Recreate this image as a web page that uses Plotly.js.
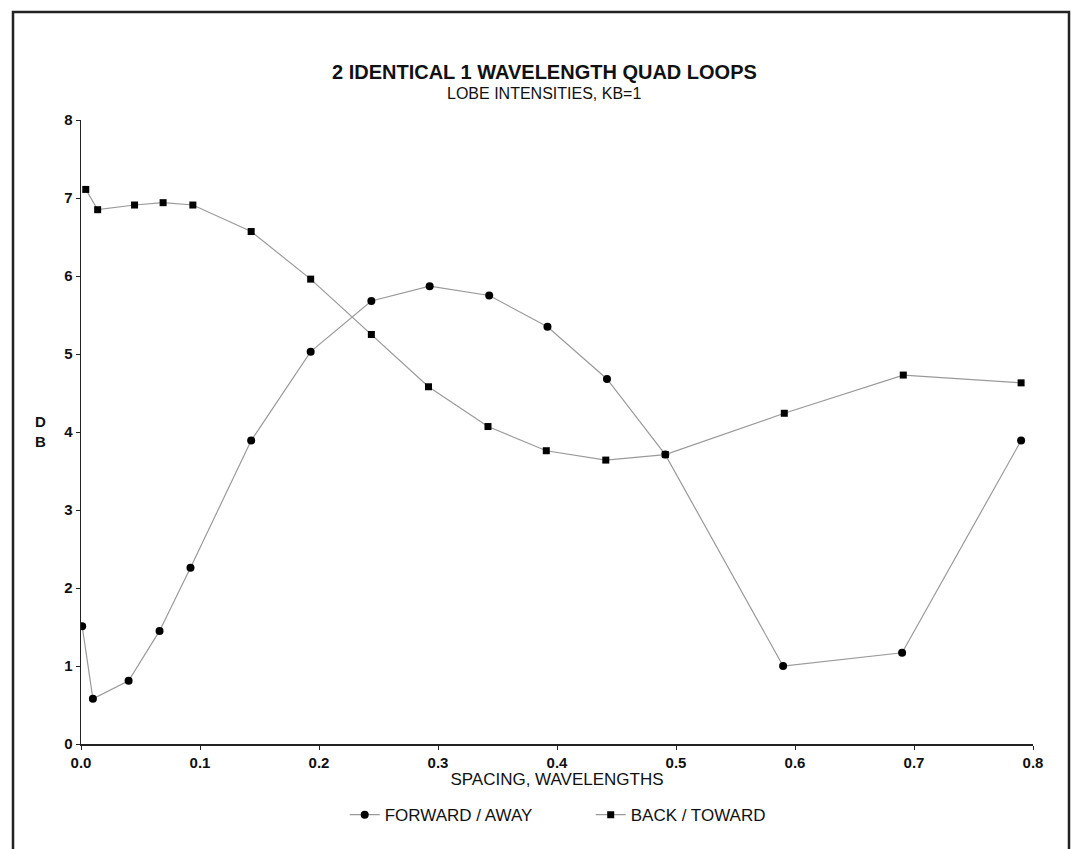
<!DOCTYPE html>
<html>
<head>
<meta charset="utf-8">
<script src="https://cdn.plot.ly/plotly-3.0.1.min.js"></script>
<style>
html,body{margin:0;padding:0;background:#fff;}
#chart{width:1071px;height:849px;}
</style>
</head>
<body>
<div id="chart"></div>
<script>
// Data
const forwardX = [0.001, 0.010, 0.040, 0.066, 0.092, 0.143, 0.193, 0.244, 0.293, 0.343, 0.392, 0.442, 0.491, 0.590, 0.690, 0.790];
const forwardY = [1.51, 0.58, 0.81, 1.45, 2.26, 3.89, 5.03, 5.68, 5.87, 5.75, 5.35, 4.68, 3.71, 1.00, 1.17, 3.89];
const backX = [0.004, 0.014, 0.045, 0.069, 0.094, 0.143, 0.193, 0.244, 0.292, 0.342, 0.391, 0.441, 0.491, 0.591, 0.691, 0.790];
const backY = [7.11, 6.85, 6.91, 6.94, 6.91, 6.57, 5.96, 5.25, 4.58, 4.07, 3.76, 3.64, 3.71, 4.24, 4.73, 4.63];
const xTicks = [0, 0.1, 0.2, 0.3, 0.4, 0.5, 0.6, 0.7, 0.8];
const yTicks = [0, 1, 2, 3, 4, 5, 6, 7, 8];
const seriesNames = ["FORWARD / AWAY", "BACK / TOWARD"];

const font = "Liberation Sans, Arial, sans-serif";
const lineColor = "#9a9a9a";

const traces = [
  {
    x: forwardX, y: forwardY, name: seriesNames[0], type: "scatter", mode: "lines+markers",
    line: {color: lineColor, width: 1.2},
    marker: {symbol: "circle", size: 8, color: "#000"}
  },
  {
    x: backX, y: backY, name: seriesNames[1], type: "scatter", mode: "lines+markers",
    line: {color: lineColor, width: 1.2},
    marker: {symbol: "square", size: 7, color: "#000"}
  }
];

const layout = {
  width: 1071, height: 849,
  margin: {l: 81, r: 38, t: 120, b: 105},
  paper_bgcolor: "#fff", plot_bgcolor: "#fff",
  font: {family: font, color: "#111"},
  showlegend: true,
  legend: {
    orientation: "h", x: 0.277, xanchor: "left", y: -0.114, yanchor: "middle",
    font: {family: font, size: 17, color: "#111"},
    entrywidth: 201, entrywidthmode: "pixels",
    bgcolor: "rgba(0,0,0,0)"
  },
  xaxis: {
    range: [0, 0.8], tickvals: xTicks, tickformat: ".1f",
    showgrid: false, zeroline: false, showline: true, linecolor: "#222", linewidth: 1.5,
    ticks: "outside", ticklen: 4, tickcolor: "#222",
    tickfont: {family: font, size: 15, color: "#111", weight: "bold"},
    title: {text: "SPACING, WAVELENGTHS", font: {family: font, size: 17, color: "#111"}, standoff: 2}
  },
  yaxis: {
    range: [0, 8], tickvals: yTicks,
    showgrid: false, zeroline: false, showline: true, linecolor: "#222", linewidth: 1.5,
    ticks: "outside", ticklen: 4, tickcolor: "#222",
    tickfont: {family: font, size: 15, color: "#111", weight: "bold"}
  },
  annotations: [
    {text: "<b>2 IDENTICAL 1 WAVELENGTH QUAD LOOPS</b>", xref: "paper", yref: "paper",
     x: (544 - 81) / 952, y: (744 - 72) / 624, xanchor: "center", yanchor: "middle",
     showarrow: false, font: {family: font, size: 20, color: "#111"}},
    {text: "LOBE INTENSITIES, KB=1", xref: "paper", yref: "paper",
     x: (544 - 81) / 952, y: (744 - 94) / 624, xanchor: "center", yanchor: "middle",
     showarrow: false, font: {family: font, size: 16, color: "#111"}},
    {text: "D<br>B", xref: "paper", yref: "paper",
     x: (40 - 81) / 952, y: (744 - 431) / 624, xanchor: "center", yanchor: "middle",
     showarrow: false, font: {family: font, size: 15, color: "#111", weight: "bold"}}
  ],
  shapes: [
    {type: "rect", xref: "paper", yref: "paper",
     x0: (13 - 81) / 952, x1: (1069 - 81) / 952,
     y0: (744 - 860) / 624, y1: (744 - 12) / 624,
     line: {color: "#222", width: 2.5}, fillcolor: "rgba(0,0,0,0)"}
  ]
};

Plotly.newPlot("chart", traces, layout, {displayModeBar: false, staticPlot: true});
</script>
</body>
</html>
